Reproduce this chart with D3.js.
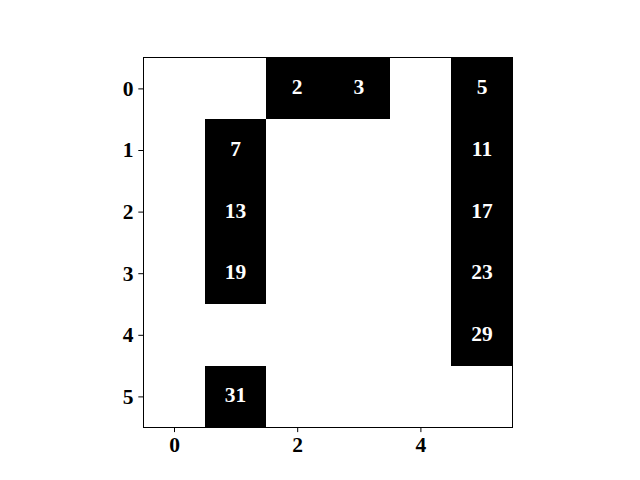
<!DOCTYPE html>
<html><head><meta charset="utf-8">
<script src="https://cdn.jsdelivr.net/npm/d3@7"></script>
<style>body{margin:0;background:#fff}</style>
</head><body>
<svg id="c" width="640" height="480"></svg>
<script>
const nRows = 6;
const nCols = 6;
const values = [0,1,2,3,4,5,6,7,8,9,10,11,12,13,14,15,16,17,18,19,20,21,22,23,24,25,26,27,28,29,30,31,32,33,34,35];
const primes = [2,3,5,7,11,13,17,19,23,29,31];
const xTicks = [0,2,4];
const yTicks = [0,1,2,3,4,5];

const svg = d3.select("#c");
const L = 143.2, T = 57.6, S = 369.6;
const x = d3.scaleLinear().domain([-0.5, nCols-0.5]).range([L, L+S]);
const y = d3.scaleLinear().domain([-0.5, nRows-0.5]).range([T, T+S]);
const font = "'Liberation Serif','Times New Roman',serif";

const cells = values.map(v => ({v, r: Math.floor(v/nCols), c: v % nCols, p: primes.includes(v)}));
const g = svg.append("g");
g.selectAll("rect.cell").data(cells.filter(d=>d.p)).join("rect")
  .attr("x", d => x(d.c-0.5)).attr("y", d => y(d.r-0.5))
  .attr("width", x(1)-x(0)).attr("height", y(1)-y(0))
  .attr("fill", "#000").attr("shape-rendering","crispEdges");
g.selectAll("text.lab").data(cells.filter(d=>d.p)).join("text")
  .attr("x", d => x(d.c)).attr("y", d => y(d.r) - 1)
  .attr("text-anchor","middle").attr("dominant-baseline","central")
  .attr("fill","#fff").attr("font-family",font).attr("font-weight","bold").attr("font-size","21.5px")
  .text(d => d.v);

svg.append("rect").attr("x",L).attr("y",T).attr("width",S).attr("height",S)
  .attr("fill","none").attr("stroke","#000").attr("stroke-width",1).attr("shape-rendering","crispEdges");

const xa = svg.append("g").attr("transform",`translate(0,${T+S})`)
  .call(d3.axisBottom(x).tickValues(xTicks).tickSize(4.9).tickPadding(4.9).tickFormat(d3.format("d")));
const ya = svg.append("g").attr("transform",`translate(${L},0)`)
  .call(d3.axisLeft(y).tickValues(yTicks).tickSize(4.9).tickPadding(4.9).tickFormat(d3.format("d")));
[xa, ya].forEach(a => {
  a.select(".domain").remove();
  a.selectAll("line").attr("stroke","#000").attr("stroke-width",1);
  a.selectAll("text").attr("font-family",font).attr("font-weight","bold").attr("font-size","21.5px").attr("fill","#000");
});
</script>
</body></html>
